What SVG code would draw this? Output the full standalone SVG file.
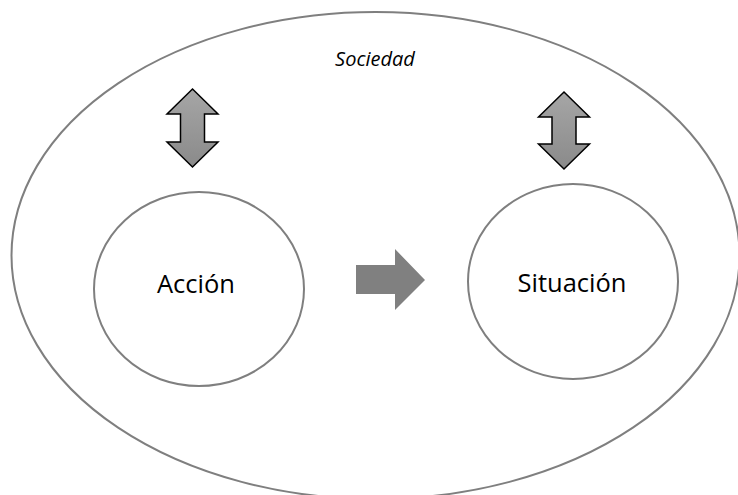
<svg xmlns="http://www.w3.org/2000/svg" width="738" height="495" viewBox="0 0 738 495">
  <defs>
    <linearGradient id="arrowFill" x1="0" y1="0" x2="0" y2="1">
      <stop offset="0" stop-color="#a6a6a6"/>
      <stop offset="1" stop-color="#8a8a8a"/>
    </linearGradient>
  </defs>
  <style>
    .ring { fill: none; stroke: #7f7f7f; stroke-width: 2; }
    .bubble { fill: #ffffff; stroke: #7f7f7f; stroke-width: 2; }
    .label { font-family: "Open Sans", "Liberation Sans", sans-serif; font-size: 25.5px; fill: #000000; text-anchor: middle; }
    .title { font-family: "Open Sans", "Liberation Sans", sans-serif; font-size: 20px; font-style: italic; fill: #000000; text-anchor: middle; }
    .updown { fill: url(#arrowFill); stroke: #000000; stroke-width: 1.5; stroke-linejoin: miter; }
    .flow { fill: #808080; stroke: none; }
  </style>

  <rect width="738" height="495" fill="#ffffff"/>

  <g id="sociedad">
    <ellipse class="ring" cx="375.5" cy="255.5" rx="364" ry="243.5"/>
    <text class="title" x="375" y="66">Sociedad</text>
  </g>

  <g id="accion">
    <ellipse class="bubble" cx="199" cy="289" rx="105" ry="97"/>
    <text class="label" x="196" y="293">Acción</text>
  </g>

  <g id="situacion">
    <ellipse class="bubble" cx="573" cy="281.5" rx="105" ry="97.5"/>
    <text class="label" x="572" y="292">Situación</text>
  </g>

  <g id="connectors">
    <!-- two-way exchange between Acción and Sociedad -->
    <polygon class="updown" points="192.5,89 218,114 204.5,114 204.5,142 218,142 192.5,167 167,142 180.5,142 180.5,114 167,114"/>
    <!-- two-way exchange between Situación and Sociedad -->
    <polygon class="updown" points="564,92 589.5,117 576,117 576,144 589.5,144 564,169 538.5,144 552,144 552,117 538.5,117"/>
    <!-- Acción leads to Situación -->
    <polygon class="flow" points="356,265 395,265 395,249 425,280 395,310 395,294 356,294"/>
  </g>
</svg>
